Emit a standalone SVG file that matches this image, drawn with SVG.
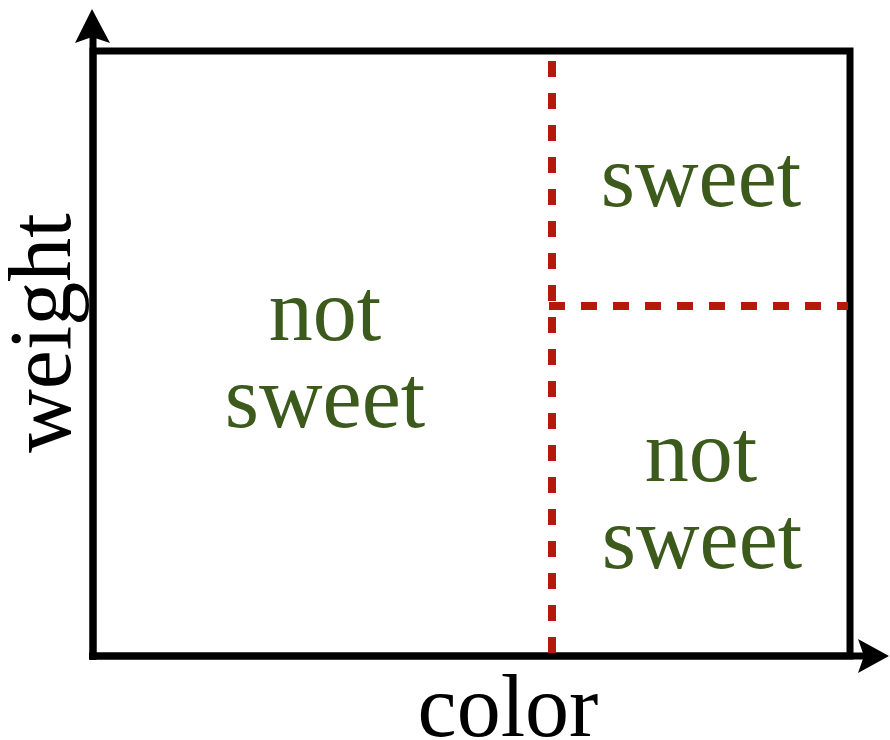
<svg xmlns="http://www.w3.org/2000/svg" width="890" height="740" viewBox="0 0 890 740">
  <style>
    .frame { fill: none; stroke: #000; stroke-width: 7; }
    .axis { stroke: #000; stroke-width: 7; fill: none; }
    .head { fill: #000; }
    .split { stroke: #b41a0c; stroke-width: 8; stroke-dasharray: 16 16; fill: none; }
    .label { font-family: "Liberation Serif", "Times New Roman", serif; font-size: 88px; fill: #000; text-anchor: middle; }
    .region { font-family: "Liberation Serif", "Times New Roman", serif; font-size: 88px; fill: #3c5a1c; text-anchor: middle; }
  </style>
  <rect width="890" height="740" fill="#fff"/>

  <!-- axes and plot frame -->
  <g id="axes">
    <rect class="frame" x="93" y="51" width="757" height="605"/>
    <line class="axis" x1="93" y1="660" x2="93" y2="36"/>
    <path class="head" d="M92,9 L110,43 L92,37 L75,43 Z"/>
    <line class="axis" x1="89" y1="656" x2="866" y2="656"/>
    <path class="head" d="M889,656 L858,673 L864,656 L858,639 Z"/>
  </g>

  <!-- decision boundaries -->
  <g id="connectors">
    <line class="split" x1="552" y1="61" x2="552" y2="656"/>
    <line class="split" x1="549" y1="306" x2="848" y2="306"/>
  </g>

  <!-- axis titles -->
  <g id="x-label"><text class="label" x="508" y="736">color</text></g>
  <g id="y-label"><text class="label" transform="translate(70,333) rotate(-90)">weight</text></g>

  <!-- region labels -->
  <g id="region-left">
    <text class="region" x="325" y="340">not</text>
    <text class="region" x="325" y="427">sweet</text>
  </g>
  <g id="region-top-right">
    <text class="region" x="701" y="206">sweet</text>
  </g>
  <g id="region-bottom-right">
    <text class="region" x="701" y="481">not</text>
    <text class="region" x="702" y="568">sweet</text>
  </g>
</svg>
